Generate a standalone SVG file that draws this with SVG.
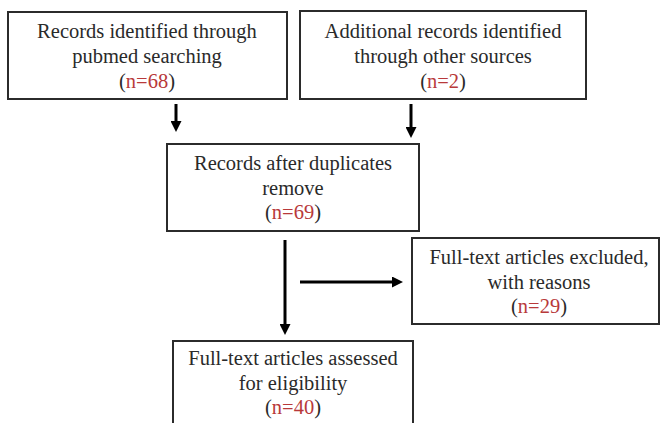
<svg xmlns="http://www.w3.org/2000/svg" width="661" height="423" viewBox="0 0 661 423">
  <style>
    .box { fill: #ffffff; stroke: #2b2b2b; stroke-width: 2; }
    .t { font-family: "Liberation Serif", "Times New Roman", serif; font-size: 20.5px; fill: #2a2a2a; text-anchor: middle; }
    .n { fill: #b8393a; }
    .conn { stroke: #000000; stroke-width: 3; fill: none; }
  </style>
  <defs>
    <marker id="ah" markerUnits="userSpaceOnUse" markerWidth="11" markerHeight="11" refX="4" refY="5.5" orient="auto">
      <path d="M0,0 L11,5.5 L0,11 z" fill="#000000"/>
    </marker>
  </defs>
  <rect width="661" height="423" fill="#ffffff"/>

  <g id="connectors">
    <line class="conn" x1="176" y1="104" x2="176" y2="125" marker-end="url(#ah)"/>
    <line class="conn" x1="411" y1="104" x2="411" y2="131" marker-end="url(#ah)"/>
    <line class="conn" x1="285" y1="240" x2="285" y2="328" marker-end="url(#ah)"/>
    <line class="conn" x1="300" y1="282" x2="396" y2="282" marker-end="url(#ah)"/>
  </g>

  <g id="node-pubmed">
    <rect class="box" x="8" y="12" width="279" height="87"/>
    <text class="t" x="147" y="38">Records identified through</text>
    <text class="t" x="147" y="63">pubmed searching</text>
    <text class="t" x="147" y="88">(<tspan class="n">n=68</tspan>)</text>
  </g>

  <g id="node-other">
    <rect class="box" x="300" y="11" width="286" height="88"/>
    <text class="t" x="443" y="38">Additional records identified</text>
    <text class="t" x="443" y="63">through other sources</text>
    <text class="t" x="443" y="88">(<tspan class="n">n=2</tspan>)</text>
  </g>

  <g id="node-dedup">
    <rect class="box" x="167" y="144" width="252" height="87"/>
    <text class="t" x="293" y="170">Records after duplicates</text>
    <text class="t" x="293" y="195">remove</text>
    <text class="t" x="293" y="219">(<tspan class="n">n=69</tspan>)</text>
  </g>

  <g id="node-excluded">
    <rect class="box" x="412" y="238" width="247" height="86"/>
    <text class="t" x="539" y="264">Full-text articles excluded,</text>
    <text class="t" x="539" y="289">with reasons</text>
    <text class="t" x="539" y="313">(<tspan class="n">n=29</tspan>)</text>
  </g>

  <g id="node-assessed">
    <rect class="box" x="173" y="341" width="240" height="100"/>
    <text class="t" x="293" y="365">Full-text articles assessed</text>
    <text class="t" x="293" y="390">for eligibility</text>
    <text class="t" x="293" y="414">(<tspan class="n">n=40</tspan>)</text>
  </g>
</svg>
